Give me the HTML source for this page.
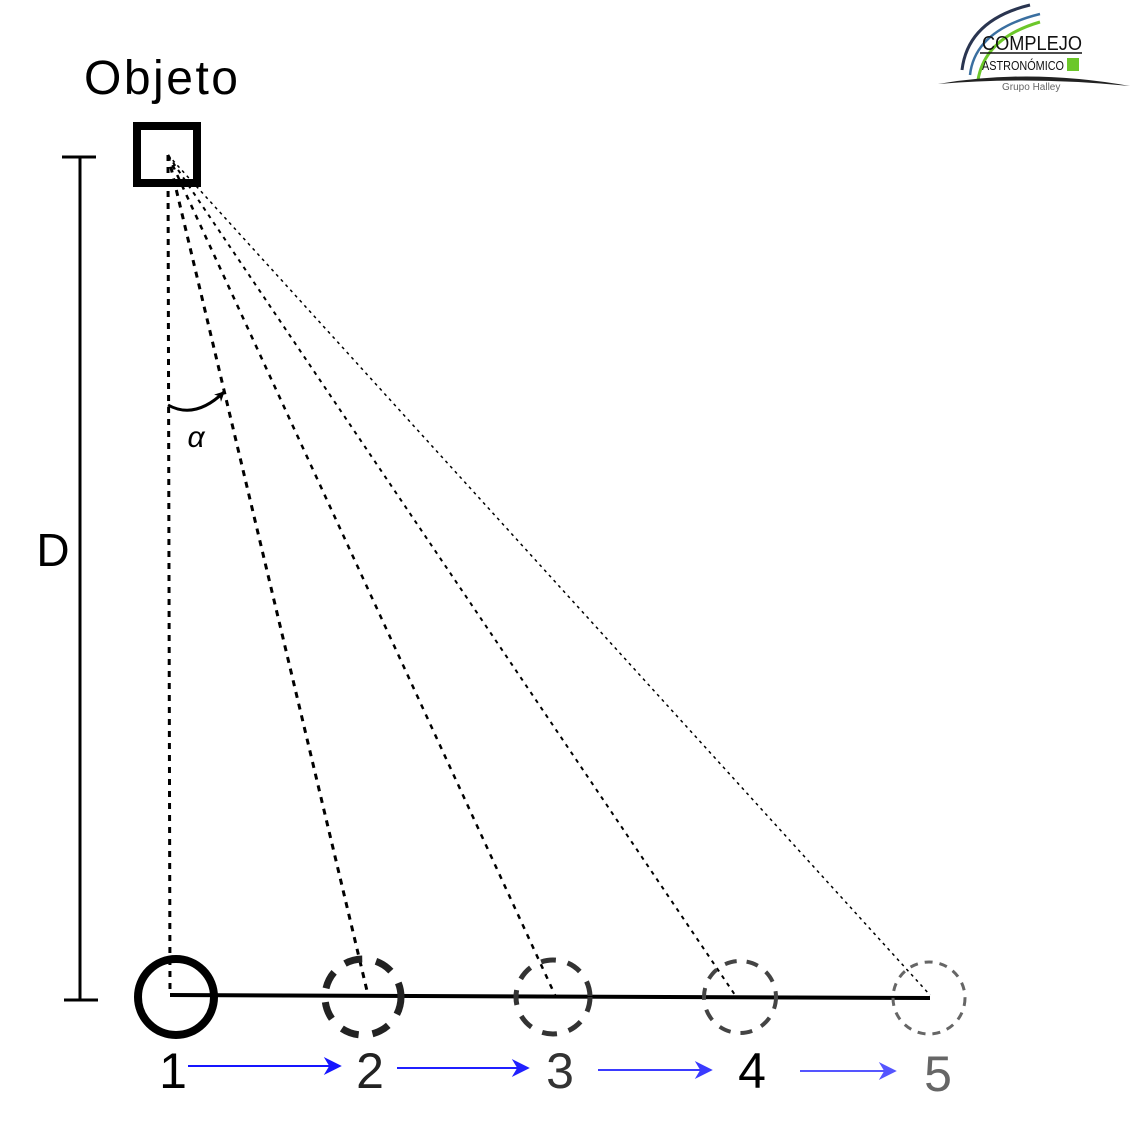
<!DOCTYPE html>
<html><head><meta charset="utf-8"><style>
html,body{margin:0;padding:0;background:#fff;width:1134px;height:1134px;overflow:hidden}
text{font-family:"Liberation Sans",sans-serif}
</style></head><body>
<svg width="1134" height="1134" viewBox="0 0 1134 1134">
<defs><marker id="ah" viewBox="0 0 10 10" refX="9" refY="5" markerWidth="26" markerHeight="18" orient="auto" markerUnits="userSpaceOnUse"><path d="M0,0 L10,5 L0,10 L3,5 Z" fill="context-stroke"/></marker>
<marker id="ah2" viewBox="0 0 10 10" refX="9" refY="5" markerWidth="12" markerHeight="10" orient="auto" markerUnits="userSpaceOnUse"><path d="M0,0 L10,5 L0,10 L3,5 Z" fill="#000"/></marker></defs>

<text x="161" y="94" font-size="48" text-anchor="middle" textLength="154">Objeto</text>
<rect x="137" y="126" width="60" height="57" fill="none" stroke="#000" stroke-width="8"/>

<g stroke="#000" stroke-width="3">
<line x1="80" y1="157" x2="80" y2="1000"/><line x1="62" y1="157" x2="96" y2="157"/><line x1="64" y1="1000" x2="98" y2="1000"/></g>
<text x="53" y="566" font-size="46" text-anchor="middle">D</text>

<g fill="none" stroke="#000">
<line x1="168" y1="155" x2="170" y2="995" stroke-width="3" stroke-dasharray="6,6"/>
<line x1="168" y1="155" x2="368" y2="995" stroke-width="3" stroke-dasharray="6,6"/>
<line x1="168" y1="155" x2="555" y2="995" stroke-width="2.5" stroke-dasharray="5,6"/>
<line x1="168" y1="155" x2="735" y2="995" stroke-width="2" stroke-dasharray="4,5"/>
<line x1="168" y1="155" x2="930" y2="995" stroke-width="1.5" stroke-dasharray="3,4"/>
</g>
<path d="M168,405 Q195,420 224,392" fill="none" stroke="#000" stroke-width="3" marker-end="url(#ah2)"/>
<text x="196" y="447" font-size="30" font-style="italic" text-anchor="middle" font-family="DejaVu Serif, serif">α</text>

<line x1="170" y1="995" x2="930" y2="998" stroke="#000" stroke-width="4"/>
<circle cx="176" cy="997" r="38" fill="none" stroke="#000" stroke-width="8"/>
<circle cx="363" cy="997" r="38" fill="none" stroke="#222" stroke-width="7" stroke-dasharray="18,14"/>
<circle cx="553" cy="997" r="37" fill="none" stroke="#333" stroke-width="5" stroke-dasharray="15,12"/>
<circle cx="740" cy="997" r="36" fill="none" stroke="#444" stroke-width="4" stroke-dasharray="12,10"/>
<circle cx="929" cy="998" r="36" fill="none" stroke="#666" stroke-width="3" stroke-dasharray="8,7"/>

<g font-size="50" text-anchor="middle">
<text x="173" y="1088" fill="#000">1</text><text x="370" y="1088" fill="#222">2</text><text x="560" y="1088" fill="#333">3</text><text x="752" y="1088" fill="#000">4</text><text x="938" y="1091" fill="#666">5</text></g>
<g stroke-width="2">
<line x1="188" y1="1066" x2="340" y2="1066" stroke="#1515ff" marker-end="url(#ah)"/>
<line x1="397" y1="1068" x2="528" y2="1068" stroke="#2020ff" marker-end="url(#ah)"/>
<line x1="598" y1="1070" x2="711" y2="1070" stroke="#3a3aff" marker-end="url(#ah)"/>
<line x1="800" y1="1071" x2="895" y2="1071" stroke="#5555ff" marker-end="url(#ah)"/>
</g>

<g>
<path d="M962,70 Q968,20 1030,5" fill="none" stroke="#2a3550" stroke-width="3"/>
<path d="M970,75 Q975,30 1040,14" fill="none" stroke="#3a6fa0" stroke-width="2.5"/>
<path d="M978,80 Q985,38 1040,22" fill="none" stroke="#6cc72a" stroke-width="3"/>
<text x="982" y="50" font-size="20" fill="#111" textLength="100" lengthAdjust="spacingAndGlyphs">COMPLEJO</text>
<line x1="980" y1="53" x2="1082" y2="53" stroke="#111" stroke-width="1.5"/>
<text x="982" y="70" font-size="13" fill="#111" textLength="82" lengthAdjust="spacingAndGlyphs">ASTRONÓMICO</text>
<rect x="1067" y="58" width="12" height="13" fill="#6cc72a"/>
<path d="M938,84 Q1030,68 1130,86 Q1030,76 938,84Z" fill="#222"/>
<text x="1002" y="90" font-size="10" fill="#666">Grupo Halley</text>
</g>
</svg>
</body></html>
